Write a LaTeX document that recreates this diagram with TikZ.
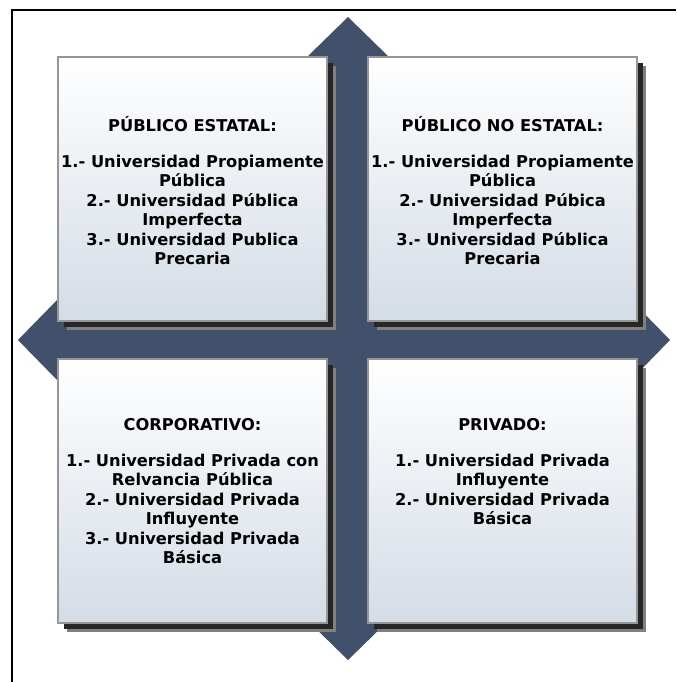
\documentclass[tikz,border=0pt]{standalone}
\usepackage{fontspec}
\setmainfont{DejaVu Sans}
\usepackage{xcolor}
\usetikzlibrary{shadows}
\definecolor{arrowblue}{RGB}{65,80,107}
\definecolor{boxbottom}{RGB}{212,220,230}
\definecolor{boxline}{RGB}{150,150,150}

\tikzset{
    quadbox/.style={draw=boxline, line width=0.9pt, top color=white, bottom color=boxbottom,
        minimum width=201.75pt, minimum height=198pt, inner sep=0pt, outer sep=0pt,
        drop shadow={shadow xshift=6.75pt, shadow yshift=-6.75pt, fill=black!50, opacity=1},
        drop shadow={shadow xshift=4.5pt, shadow yshift=-4.5pt, fill=black!85, opacity=1}},
    quadtext/.style={anchor=north, align=center, inner sep=0pt,
        font=\bfseries\fontsize{12.2}{14.6}\selectfont}
}

\begin{document}
\begin{tikzpicture}[x=0.75pt,y=0.75pt,yscale=-1,xscale=1]
    \useasboundingbox (0,0) rectangle (676,682);
    
    %Frame
    \draw [line width=1.6pt] (12,682) -- (12,10) -- (676,10) ;
    
    %Shape: Quad Arrow
    \fill [arrowblue] (348,17) -- (389,57) -- (369,57) -- (369,319) -- (630,319) -- (630,299) -- (670,340) -- (630,381) -- (630,361) -- (369,361) -- (369,620) -- (389,620) -- (348,660) -- (307,620) -- (327,620) -- (327,361) -- (58,361) -- (58,381) -- (18,340) -- (58,299) -- (58,319) -- (327,319) -- (327,57) -- (307,57) -- cycle ;
    
    %Boxes
    \node [quadbox] (pubest) at (192.5,189) {};
    \node [quadbox] (pubnoest) at (502.5,189) {};
    \node [quadbox] (corp) at (192.5,491) {};
    \node [quadbox] (priv) at (502.5,491) {};
    
    % Text Node
    \node [quadtext] (pubesttext) at ([yshift=44pt]pubest.north) {PÚBLICO ESTATAL:\\[12.6pt]
        1.- Universidad Propiamente\\ Pública\\ 2.- Universidad Pública\\ Imperfecta\\
        3.- Universidad Publica\\ Precaria};
    % Text Node
    \node [quadtext] (pubnoesttext) at ([yshift=44pt]pubnoest.north) {PÚBLICO NO ESTATAL:\\[12.6pt]
        1.- Universidad Propiamente\\ Pública\\ 2.- Universidad Púbica\\ Imperfecta\\
        3.- Universidad Pública\\ Precaria};
    % Text Node
    \node [quadtext] (corptext) at ([yshift=44pt]corp.north) {CORPORATIVO:\\[12.6pt]
        1.- Universidad Privada con\\ Relvancia Pública\\ 2.- Universidad Privada\\ Influyente\\
        3.- Universidad Privada\\ Básica};
    % Text Node
    \node [quadtext] (privtext) at ([yshift=44pt]priv.north) {PRIVADO:\\[12.6pt]
        1.- Universidad Privada\\ Influyente\\ 2.- Universidad Privada\\ Básica};
    
\end{tikzpicture}
\end{document}
